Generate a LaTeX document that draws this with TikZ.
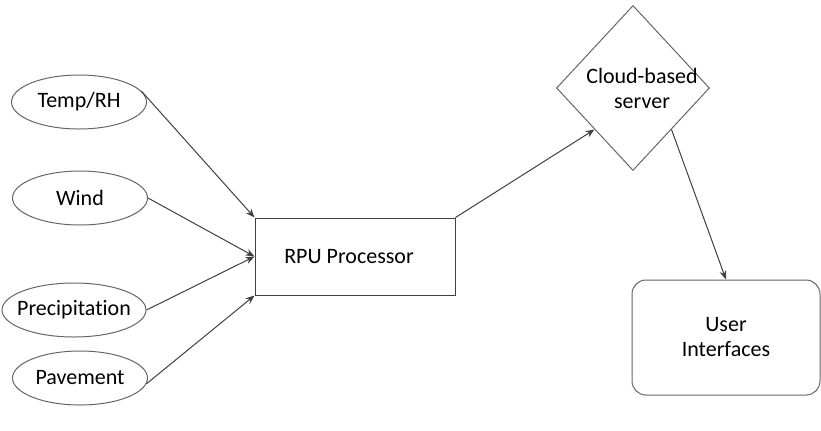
\documentclass[tikz,border=0pt]{standalone}
\usepackage{fontspec}
\setmainfont{Carlito}[Ligatures = NoCommon]
\usetikzlibrary{shapes.geometric, arrows.meta}
\begin{document}
\begin{tikzpicture}[x = .5pt, y = -.5pt,
		font = \fontsize{11}{12.5}\selectfont,
		line width = .5pt, draw = black!75,
		sensor/.style = {draw = black!60, ellipse, minimum width = 67.5pt, minimum height = 27pt, inner sep = 0pt},
		arr/.style = {draw = black!75, -{Stealth[length = 4.5pt, width = 3.5pt]}}]
					\useasboundingbox (0,0) rectangle (821,430);
					\node[sensor, label = center:Temp/RH] (temp) at (79,102) {};
					\node[sensor, label = center:Wind] (wind) at (80,198) {};
					\node[sensor, minimum width = 72pt, label = center:Precipitation] (precip) at (74,310) {};
					\node[sensor, label = center:Pavement] (pave) at (80,378) {};
					\node[draw, minimum width = 100pt, minimum height = 38.5pt, label = {[xshift = -3pt]center:RPU Processor}] (rpu) at (355,256.5) {};
					\node[draw = black!60, diamond, minimum width = 76.5pt, minimum height = 82.5pt, inner sep = 0pt, label = {[align = center, xshift = 4.5pt]center:Cloud-based\\server}] (cloud) at (633,88) {};
					\node[draw = black!60, rounded corners = 7pt, minimum width = 94pt, minimum height = 57.5pt, align = center] (user) at (726,337.5) {User\\Interfaces};
					\draw[arr] (temp.10) -- (rpu.north west);
					\draw[arr] (wind.east) -- (rpu.west);
					\draw[arr] (precip.east) -- (rpu.west);
					\draw[arr] (pave.-5) -- (rpu.south west);
					\draw[arr] (rpu.north east) -- (cloud.south west);
					\draw[arr] (cloud.south east) -- (user.north);
				\end{tikzpicture}
\end{document}
